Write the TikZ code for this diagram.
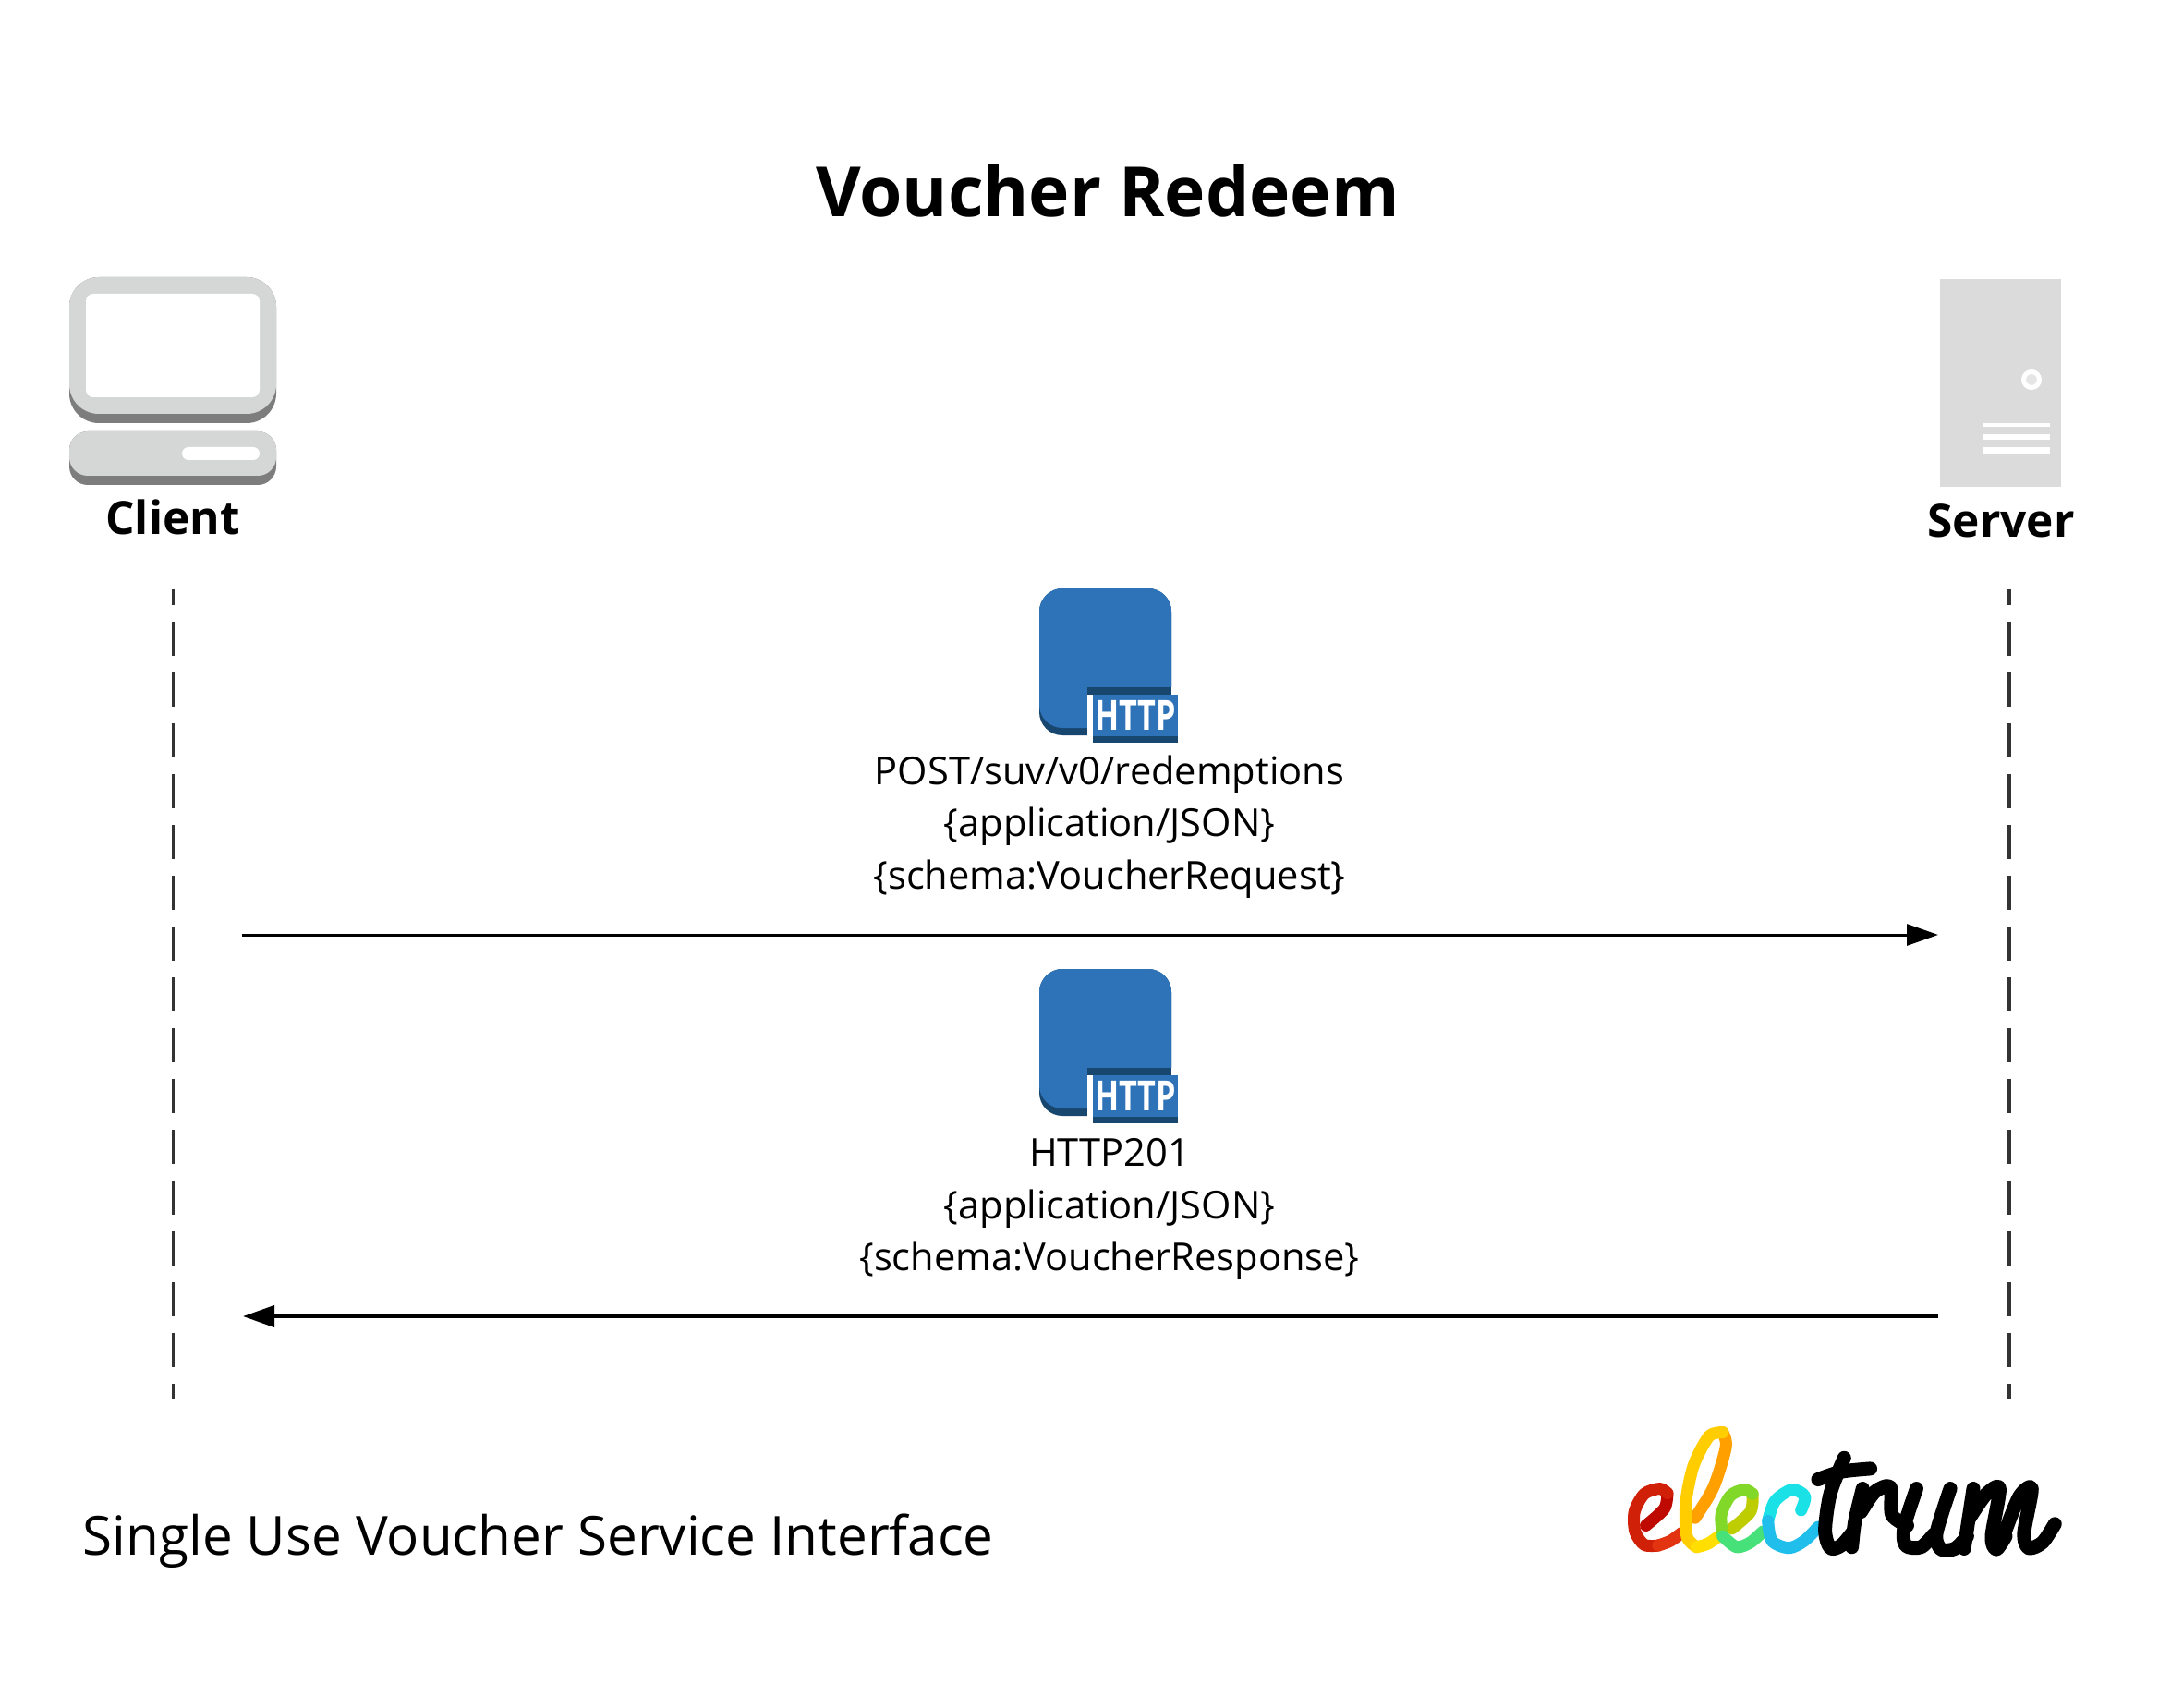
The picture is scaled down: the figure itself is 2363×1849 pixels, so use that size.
\documentclass[tikz,border=0pt]{standalone}
\usepackage{fontspec}
\setmainfont{Open Sans}
\usepackage{tikz}
\usetikzlibrary{positioning, arrows.meta}

\definecolor{awsblue}{HTML}{2E73B8}
\definecolor{awsdark}{HTML}{17466F}
\definecolor{pcgrey}{HTML}{D5D6D6}
\definecolor{pcshade}{HTML}{7D7D7D}
\definecolor{srvgrey}{HTML}{DBDBDB}

\tikzset{
	title/.style={font=\fontsize{21.3}{26}\selectfont\bfseries, anchor=base},
	actor/.style={font=\fontsize{14.1}{17}\selectfont\bfseries, anchor=base},
	msg/.style={font=\fontsize{11.83}{16.07}\selectfont, align=center, anchor=north, inner sep=0pt},
	foot/.style={font=\fontsize{16.6}{20}\selectfont, anchor=base west, inner sep=0pt},
	lifeline/.style={draw=black!80, line width=0.04cm, dash pattern=on 0.37cm off 0.18cm, dash phase=0.2cm},
	call/.style={draw=black, line width=0.03cm, -{Triangle[length=0.34cm,width=0.23cm]}},
	logoline/.style={line width=0.13cm, line cap=round, line join=round, smooth},
	logoblack/.style={logoline, black, line width=0.15cm},
	httpicon/.pic={
		\fill[awsdark, rounded corners=0.25cm] (0,0) rectangle (143,159);
		\fill[awsblue, rounded corners=0.25cm] (0,0) rectangle (143,151);
		\fill[white] (52,107) rectangle (150,170);
		\fill[awsdark] (52,107) rectangle (143,115);
		\fill[awsblue] (58,115) rectangle (150,160);
		\fill[awsdark] (58,160) rectangle (150,167);
		\node[text=white, font=\fontsize{12.8}{15}\selectfont\bfseries, xscale=0.76, inner sep=0pt] (-badge) at (104,137) {HTTP};
	}
}

\begin{document}
\begin{tikzpicture}[x=0.01cm,y=-0.01cm]
	\path[use as bounding box, fill=white] (0,0) rectangle (2363,1849);

	\node[title] (title) at (1199,235) {Voucher Redeem};

	% client
	\fill[pcshade, rounded corners=0.32cm] (75,300) rectangle (299,458);
	\fill[pcgrey, rounded corners=0.32cm] (75,300) rectangle (299,448);
	\fill[white, rounded corners=0.08cm] (93,318) rectangle (281,430);
	\fill[pcshade, rounded corners=0.2cm] (75,467) rectangle (299,525);
	\fill[pcgrey, rounded corners=0.2cm] (75,467) rectangle (299,515);
	\fill[white, rounded corners=0.07cm] (197,484) rectangle (281,498);
	\node[actor] (client) at (187,578) {Client};

	% server
	\fill[srvgrey] (2100,302) rectangle (2231,527);
	\filldraw[fill=black!10, draw=white, line width=0.05cm] (2199,411) circle (8.5);
	\foreach \y/\h in {458/4,470/6,484/7}
		\fill[white] (2147,\y) rectangle (2219,\y+\h);
	\node[actor] (server) at (2166,581) {Server};

	% life lines
	\coordinate (clienttop) at (187,638);
	\coordinate (clientend) at (187,1514);
	\coordinate (servertop) at (2175,638);
	\coordinate (serverend) at (2175,1514);
	\path[lifeline, line width=0.03cm] (clienttop) -- (clientend);
	\path[lifeline] (servertop) -- (serverend);

	% request
	\pic (httpreq) at (1125,637) {httpicon};
	\node[msg] (reqtext) at (1201,817) {POST/suv/v0/redemptions\\{\char`\{}application/JSON{\char`\}}\\{\char`\{}schema:VoucherRequest{\char`\}}};
	\coordinate (reqfrom) at (262,1012);
	\coordinate (reqto) at (2098,1012);
	\path[call] (reqfrom) -- (reqto);

	% response
	\pic (httpres) at (1125,1049) {httpicon};
	\node[msg] (restext) at (1201,1232) {HTTP201\\{\char`\{}application/JSON{\char`\}}\\{\char`\{}schema:VoucherResponse{\char`\}}};
	\coordinate (resfrom) at (2098,1425);
	\coordinate (resto) at (263,1425);
	\path[call, line width=0.04cm] (resfrom) -- (resto);

	\node[foot] (footer) at (89,1683) {Single Use Voucher Service Interface};

	% logo, traced
	\begin{scope}[shift={(1740,1530)},x=0.00333cm,y=-0.00333cm]
		\draw[logoline, color={rgb,255:red,190;green,10;blue,0}] plot coordinates {(125,365) (185,310) (195,260)};
		\draw[logoline, color={rgb,255:red,208;green,32;blue,8}] plot coordinates {(195,260) (170,245) (120,262) (88,320) (90,385) (120,428) (165,430)};
		\draw[logoline, color={rgb,255:red,226;green,52;blue,16}] plot coordinates {(165,430) (205,415) (240,390)};
		\draw[logoline, color={rgb,255:red,255;green,160;blue,0}] plot coordinates {(285,340) (345,240) (385,110) (375,62)};
		\draw[logoline, color={rgb,255:red,255;green,205;blue,0}] plot coordinates {(375,62) (330,75) (280,170) (255,290) (258,400) (290,435)};
		\draw[logoline, color={rgb,255:red,255;green,222;blue,0}] plot coordinates {(290,435) (325,425) (355,405)};
		\draw[logoline, color={rgb,255:red,190;green,205;blue,0}] plot coordinates {(405,375) (465,320) (472,262)};
		\draw[logoline, color={rgb,255:red,130;green,216;blue,40}] plot coordinates {(472,262) (445,248) (400,268) (370,330) (375,400)};
		\draw[logoline, color={rgb,255:red,70;green,225;blue,120}] plot coordinates {(375,400) (420,435) (465,420) (505,385)};
		\draw[logoline, color={rgb,255:red,25;green,225;blue,230}] plot coordinates {(630,315) (642,270) (600,248) (545,285) (522,350)};
		\draw[logoline, color={rgb,255:red,32;green,190;blue,235}] plot coordinates {(522,350) (535,415) (590,438) (640,415) (685,370)};
		\draw[logoblack] plot coordinates {(770,145) (725,260) (708,380) (725,438) (760,430) (795,390)};
		\draw[logoblack] plot coordinates {(685,215) (760,190) (855,180)};
		\draw[logoblack] plot coordinates {(830,245) (805,350) (795,435)};
		\draw[logoblack] plot coordinates {(825,320) (870,255) (920,240) (925,330) (975,365)};
		\draw[logoblack] plot coordinates {(1005,245) (965,370) (970,430) (1020,435) (1060,395)};
		\draw[logoblack] plot coordinates {(1115,245) (1070,390) (1085,442) (1130,440) (1170,400)};
		\draw[logoblack] plot coordinates {(1190,245) (1160,440)};
		\draw[logoblack] plot coordinates {(1175,345) (1230,265) (1275,245) (1250,400) (1265,442) (1295,400)};
		\draw[logoblack] plot coordinates {(1295,380) (1340,270) (1380,245) (1355,390) (1370,438) (1415,420) (1455,360)};
	\end{scope}
\end{tikzpicture}
\end{document}
